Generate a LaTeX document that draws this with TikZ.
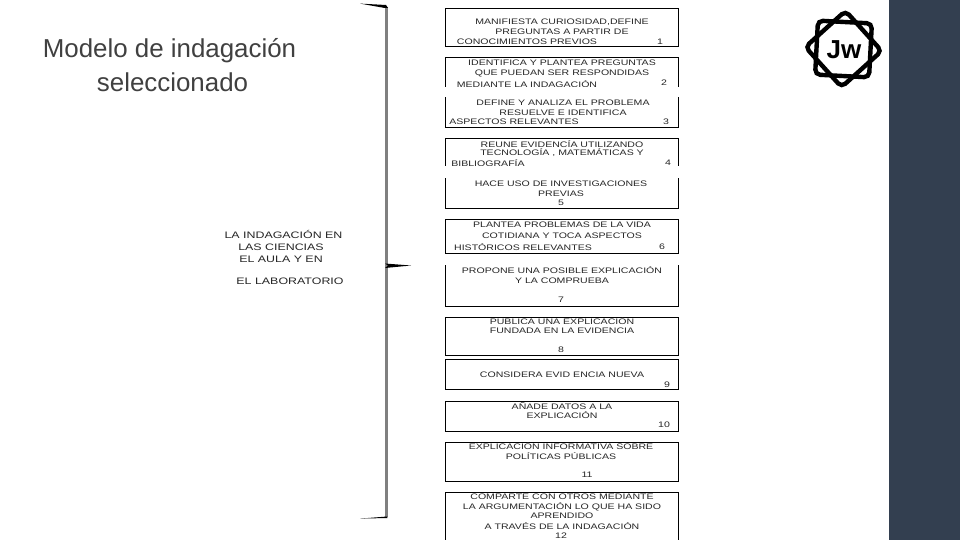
\documentclass[tikz,border=0pt]{standalone}
\usepackage{fontspec}
\setmainfont{Liberation Sans}
\newfontfamily\widefont[FakeStretch=1.32]{Liberation Sans}
\definecolor{panel}{HTML}{333F50}
\definecolor{titlecol}{HTML}{404040}
\definecolor{txt}{HTML}{262626}
\tikzset{
  stepbox/.style={draw=black,line width=1pt,minimum width=233pt,inner sep=0pt,anchor=north west},
  lbl/.style={inner sep=0pt,text=txt,font=\widefont\fontsize{8}{8}\selectfont,anchor=center},
  lefttext/.style={inner sep=0pt,text=txt,font=\widefont\fontsize{9.4}{10}\selectfont,anchor=center},
  heading/.style={inner sep=0pt,text=titlecol,font=\fontsize{25.9}{28}\selectfont,anchor=center},
  ring/.style={draw=black,line width=4.4pt,rounded corners=5pt},
}
\begin{document}
\begin{tikzpicture}[x=1pt,y=-1pt]
\useasboundingbox (0,0) rectangle (960,540);
\fill[panel] (889,0) rectangle (960,540);
% title
\node[heading] (t1) at (169.5,51) {Modelo de indagación};
\node[heading] (t2) at (172.5,82) {seleccionado};
% brace
\fill[gray] (385,7) rectangle (388.2,356);
\fill[gray] (385.2,356) rectangle (387.8,517);
\fill[black] (360,3.6) -- (386,5) -- (388,8) -- (384.8,8) -- cycle;
\fill[black] (360,518.6) -- (387.4,516.5) -- (387.4,518) -- cycle;
\fill[black] (385,263.5) -- (411,265.5) -- (385,268) -- (388,265.5) -- cycle;
% boxes
\node[stepbox,minimum height=38pt] (b1) at (445,8) {};
\node[stepbox,minimum height=38pt] (b2) at (445,57) {};
\node[stepbox,minimum height=35pt] (b3) at (445,92) {};
\node[stepbox,minimum height=36pt] (b4) at (445,138) {};
\node[stepbox,minimum height=36pt] (b5) at (445,172) {};
\node[stepbox,minimum height=34pt] (b6) at (445,219) {};
\node[stepbox,minimum height=46pt] (b7) at (445,260) {};
\node[stepbox,minimum height=38.5pt] (b8) at (445,316.5) {};
\node[stepbox,minimum height=30pt] (b9) at (445,359) {};
\node[stepbox,minimum height=29.5pt] (b10) at (445,401) {};
\node[stepbox,minimum height=38.5pt] (b11) at (445,442) {};
\node[stepbox,minimum height=60pt] (b12) at (445,492) {};
% box texts
\node[lbl] (l1a) at (562,22) {MANIFIESTA CURIOSIDAD,DEFINE};
\node[lbl] (l1b) at (562,32) {PREGUNTAS A PARTIR DE};
\node[lbl] (l1c) at (527,41.5) {CONOCIMIENTOS PREVIOS};
\node[lbl] (l1d) at (660,41.5) {1};
\node[lbl] (l2a) at (562,63) {IDENTIFICA Y PLANTEA PREGUNTAS};
\node[lbl] (l2b) at (562,73) {QUE PUEDAN SER RESPONDIDAS};
\node[lbl] (l2c) at (527,84) {MEDIANTE LA INDAGACIÓN};
\node[lbl] (l2d) at (664,83) {2};
\node[lbl] (l3a) at (563,103) {DEFINE Y ANALIZA EL PROBLEMA};
\node[lbl] (l3b) at (563,113) {RESUELVE E IDENTIFICA};
\node[lbl] (l3c) at (514,122) {ASPECTOS RELEVANTES};
\node[lbl] (l3d) at (666,122) {3};
\node[lbl] (l4a) at (562,144) {REUNE EVIDENCÍA UTILIZANDO};
\node[lbl] (l4b) at (562,153) {TECNOLOGÍA , MATEMÁTICAS Y};
\node[lbl] (l4c) at (488,163.5) {BIBLIOGRAFÍA};
\node[lbl] (l4d) at (668,162.5) {4};
\node[lbl] (l5a) at (561,184) {HACE USO DE INVESTIGACIONES};
\node[lbl] (l5b) at (561,194) {PREVIAS};
\node[lbl] (l5c) at (561,203) {5};
\node[lbl] (l6a) at (562,225) {PLANTEA PROBLEMAS DE LA VIDA};
\node[lbl] (l6b) at (562,236) {COTIDIANA Y TOCA ASPECTOS};
\node[lbl] (l6c) at (523,247) {HISTÓRICOS RELEVANTES};
\node[lbl] (l6d) at (662,247) {6};
\node[lbl] (l7a) at (562,270) {PROPONE UNA POSIBLE EXPLICACIÓN};
\node[lbl] (l7b) at (562,281) {Y LA COMPRUEBA};
\node[lbl] (l7c) at (561,300) {7};
\node[lbl] (l8a) at (562,321) {PUBLICA UNA EXPLICACIÓN};
\node[lbl] (l8b) at (562,331) {FUNDADA EN LA EVIDENCIA};
\node[lbl] (l8c) at (561,350) {8};
\node[lbl] (l9a) at (562,375) {CONSIDERA EVID  ENCIA NUEVA};
\node[lbl] (l9b) at (667,384.5) {9};
\node[lbl] (l10a) at (562,406) {AÑADE DATOS A LA};
\node[lbl] (l10b) at (562,415) {EXPLICACIÓN};
\node[lbl] (l10c) at (664,425) {10};
\node[lbl] (l11a) at (561,446) {EXPLICACIÓN INFORMATIVA SOBRE};
\node[lbl] (l11b) at (561,456) {POLÍTICAS PÚBLICAS};
\node[lbl] (l11c) at (587,475) {11};
\node[lbl] (l12a) at (562,497) {COMPARTE CON OTROS MEDIANTE};
\node[lbl] (l12b) at (562,507) {LA ARGUMENTACIÓN LO QUE HA SIDO};
\node[lbl] (l12c) at (562,516) {APRENDIDO};
\node[lbl] (l12d) at (562,526) {A TRAVÉS DE LA INDAGACIÓN};
\node[lbl] (l12e) at (561,535.5) {12};
% white bands that cut the boxes and their text
\fill[white] (440,87) rectangle (685,97.5);
\fill[white] (440,166.5) rectangle (685,178.5);
\fill[white] (440,254.5) rectangle (685,265);
% left text
\node[lefttext] (m1) at (283.5,234) {LA INDAGACIÓN EN};
\node[lefttext] (m2) at (281,247) {LAS CIENCIAS};
\node[lefttext] (m3) at (281,259) {EL AULA Y EN};
\node[lefttext] (m4) at (290,281) {EL LABORATORIO};
% logo
\begin{scope}[shift={(843.5,49)},rotate=-3]
\draw[ring] (-27,-27) rectangle (27,27);
\draw[ring,rotate=45] (-27,-27) rectangle (27,27);
\end{scope}
\node[inner sep=0pt,font=\bfseries\fontsize{26}{26}\selectfont] (logo) at (844,50) {Jw};
\end{tikzpicture}
\end{document}
